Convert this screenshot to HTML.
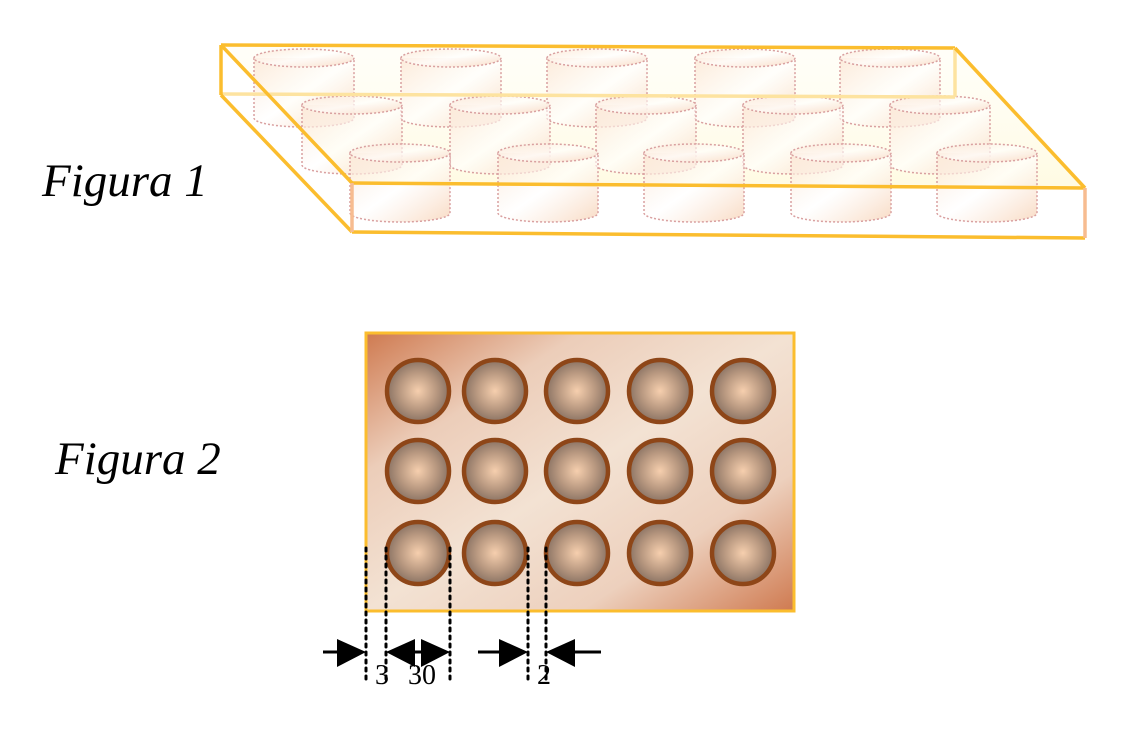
<!DOCTYPE html>
<html><head><style>body{margin:0;background:#fff}</style></head><body>
<svg width="1138" height="734" xmlns="http://www.w3.org/2000/svg" style="display:block">
<defs>
<linearGradient id="cyl" x1="0" y1="0" x2="1" y2="1">
<stop offset="0" stop-color="#fbe3cf" stop-opacity="0.7"/><stop offset="0.5" stop-color="#fff" stop-opacity="0.6"/><stop offset="1" stop-color="#f7d2b5" stop-opacity="0.8"/></linearGradient>
<linearGradient id="bg2" x1="0" y1="0" x2="1" y2="1">
<stop offset="0" stop-color="#cf7a50"/><stop offset="0.25" stop-color="#eccdb9"/><stop offset="0.5" stop-color="#f3e2d3"/><stop offset="0.75" stop-color="#edd0bd"/><stop offset="1" stop-color="#cf7a50"/></linearGradient>
<radialGradient id="ball" cx="0.5" cy="0.5" r="0.5">
<stop offset="0" stop-color="#f6cfae"/><stop offset="0.6" stop-color="#b89880"/><stop offset="1" stop-color="#8a7364"/></radialGradient>
<linearGradient id="glow" x1="0" y1="0" x2="0" y2="1"><stop offset="0" stop-color="#fffbe0" stop-opacity="0.2"/><stop offset="1" stop-color="#fff6c0" stop-opacity="0.45"/></linearGradient>
</defs>
<text x="42" y="196" font-family="Liberation Serif, serif" font-style="italic" font-size="47">Figura 1</text>
<text x="55" y="474" font-family="Liberation Serif, serif" font-style="italic" font-size="47">Figura 2</text>
<polygon points="221,45 955,48 1085,188 352,183" fill="url(#glow)"/>
<g stroke="#d9a0a0" stroke-width="1.5" stroke-dasharray="2,2" fill="url(#cyl)">
<g id="r1">
<path d="M254,58 v60 a50,9 0 0 0 100,0 v-60"/><ellipse cx="304" cy="58" rx="50" ry="9"/>
</g>
<use href="#r1" x="147"/><use href="#r1" x="293"/><use href="#r1" x="441"/><use href="#r1" x="586"/>
<use href="#r1" x="48" y="47"/><use href="#r1" x="196" y="47"/><use href="#r1" x="342" y="47"/><use href="#r1" x="489" y="47"/><use href="#r1" x="636" y="47"/>
<use href="#r1" x="96" y="95"/><use href="#r1" x="244" y="95"/><use href="#r1" x="390" y="95"/><use href="#r1" x="537" y="95"/><use href="#r1" x="683" y="95"/>
</g>
<g stroke="#fbbd2e" stroke-width="3.5" fill="none">
<line x1="221" y1="45" x2="955" y2="48"/>
<line x1="221" y1="94" x2="955" y2="97" stroke="#fde3a0"/>
<line x1="221" y1="45" x2="221" y2="95"/>
<line x1="955" y1="48" x2="955" y2="97" stroke="#fde3a0"/>
<line x1="221" y1="45" x2="352" y2="183"/>
<line x1="221" y1="95" x2="352" y2="232"/>
<line x1="955" y1="48" x2="1085" y2="188"/>
<line x1="352" y1="183" x2="1085" y2="188"/>
<line x1="352" y1="232" x2="1085" y2="238"/>
<line x1="352" y1="183" x2="352" y2="232" stroke="#f7bc90"/>
<line x1="1085" y1="188" x2="1085" y2="238" stroke="#f7bc90"/>
</g>
<rect x="366" y="333" width="428" height="278" fill="url(#bg2)" stroke="#fbbd2e" stroke-width="3"/>
<g fill="url(#ball)" stroke="#8e4618" stroke-width="4.5">
<g id="c1"><circle cx="418" cy="391" r="31"/><circle cx="495" cy="391" r="31"/><circle cx="577" cy="391" r="31"/><circle cx="660" cy="391" r="31"/><circle cx="743" cy="391" r="31"/></g>
<use href="#c1" y="80"/><use href="#c1" y="162"/>
</g>
<g stroke="#000" stroke-width="3" stroke-dasharray="3,5" stroke-linecap="round">
<line x1="366" y1="548" x2="366" y2="680"/><line x1="386" y1="548" x2="386" y2="680"/>
<line x1="450" y1="548" x2="450" y2="680"/><line x1="528" y1="548" x2="528" y2="680"/>
<line x1="546" y1="548" x2="546" y2="680"/>
</g>
<g stroke="#000" stroke-width="3">
<line x1="323" y1="652" x2="345" y2="652"/><line x1="478" y1="652" x2="505" y2="652"/><line x1="570" y1="652" x2="601" y2="652"/>
<line x1="408" y1="652" x2="428" y2="652"/>
</g>
<g fill="#000">
<polygon points="337,639 366,652 337,667"/>
<polygon points="415,639 386,652 415,667"/>
<polygon points="421,639 450,652 421,667"/>
<polygon points="499,639 528,652 499,667"/>
<polygon points="575,639 546,652 575,667"/>
</g>
<g font-family="Liberation Serif, serif" font-size="28" fill="#000">
<text x="375" y="684">3</text><text x="408" y="684">30</text><text x="537" y="684">2</text>
</g>
</svg>
</body></html>
